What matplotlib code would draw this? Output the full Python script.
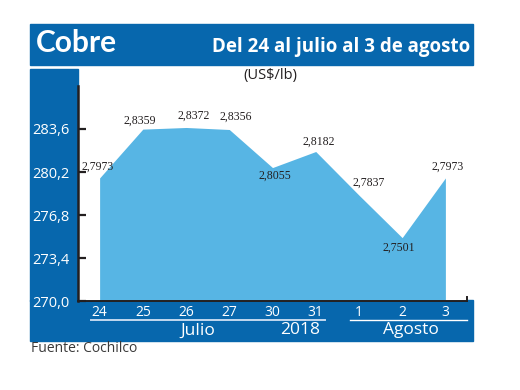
import matplotlib
matplotlib.use("Agg")
import matplotlib.pyplot as plt
from matplotlib.patches import Rectangle
from matplotlib.lines import Line2D

# ---- data ----
days = ["24", "25", "26", "27", "30", "31", "1", "2", "3"]
prices = [2.7973, 2.8359, 2.8372, 2.8356, 2.8055, 2.8182, 2.7837, 2.7501, 2.7973]  # US$/lb
price_labels = ["2,7973", "2,8359", "2,8372", "2,8356", "2,8055", "2,8182", "2,7837", "2,7501", "2,7973"]
yticks = [270.0, 273.4, 276.8, 280.2, 283.6]
ytick_labels = ["270,0", "273,4", "276,8", "280,2", "283,6"]
months = ["Julio", "2018", "Agosto"]
title = "Cobre"
subtitle = "Del 24 al julio al 3 de agosto"
unit = "(US$/lb)"
source = "Fuente: Cochilco"

# label offsets (pixels) relative to each point
label_offsets = [(-2, 11), (-3, 8), (8, 12), (6, 13), (2, -8), (3, 10), (10, 12), (-3, -10), (2, 11)]

BLUE = "#0767AD"
FILL = "#57B5E4"
W, H = 520, 390

def fx(px):
    return px / W

def fy(py):
    return 1 - py / H

fig = plt.figure(figsize=(5.2, 3.9), dpi=100)
fig.patch.set_facecolor("white")

# background bands
fig.patches.append(Rectangle((fx(30), fy(65)), fx(473) - fx(30), fy(24) - fy(65),
                             transform=fig.transFigure, color=BLUE, zorder=0))
fig.patches.append(Rectangle((fx(30), fy(301)), fx(78) - fx(30), fy(69) - fy(301),
                             transform=fig.transFigure, color=BLUE, zorder=0))
fig.patches.append(Rectangle((fx(30), fy(340.5)), fx(473) - fx(30), fy(300) - fy(340.5),
                             transform=fig.transFigure, color=BLUE, zorder=0))

ax = fig.add_axes([fx(78), fy(301), fx(467) - fx(78), fy(86) - fy(301)])
ax.set_facecolor("white")
ax.set_zorder(1)

cents = [p * 100 for p in prices]
x = list(range(len(days)))
ax.fill_between(x, cents, 270.0, color=FILL, linewidth=0, zorder=2)

ax.set_xlim(-0.5, 8.5)
ax.set_ylim(270.0, 287.0)

for s in ["top", "right"]:
    ax.spines[s].set_visible(False)
ax.spines["left"].set_color("#231f20")
ax.spines["left"].set_linewidth(1.8)
ax.spines["bottom"].set_color("#231f20")
ax.spines["bottom"].set_linewidth(1.4)
ax.spines["left"].set_zorder(3)
ax.spines["bottom"].set_zorder(3)

ax.set_yticks(yticks)
ax.set_yticklabels(ytick_labels)
ax.tick_params(axis="y", direction="in", length=6, width=1.6, color="#231f20",
               labelcolor="white", labelsize=10.5, pad=6)
for t in ax.get_yticklabels():
    t.set_fontfamily("Open Sans")

ax.set_xticks(x)
ax.set_xticklabels(days)
ax.tick_params(axis="x", length=0, labelcolor="white", labelsize=10, pad=3)
for t in ax.get_xticklabels():
    t.set_fontfamily("Open Sans")

# small end mark at the right end of the x axis
ax.plot([8.5, 8.5], [270.0, 270.35], color="#231f20", lw=1.4, clip_on=False, zorder=4)

# data labels
for xi, v, lab, (dx, dy) in zip(x, cents, price_labels, label_offsets):
    ax.annotate(lab, (xi, v), xytext=(dx, dy), textcoords="offset pixels",
                ha="center", va="center", fontsize=8.5, color="#231f20",
                family="Liberation Serif", zorder=5)

# header texts
fig.text(fx(36), fy(43), title, color="white", fontsize=21.5, fontweight="bold",
         family="Lato", ha="left", va="center")
fig.text(fx(470), fy(47), subtitle, color="white", fontsize=13.5, fontweight="bold",
         family="Open Sans", ha="right", va="center")
fig.text(fx(270), fy(75), unit, color="#231f20", fontsize=10.5, family="Open Sans",
         ha="center", va="center")

# month underlines and labels in the bottom band
fig.add_artist(Line2D([fx(91), fx(325)], [fy(319.5), fy(319.5)], color="#c3d9ef", lw=1.4,
                      transform=fig.transFigure))
fig.add_artist(Line2D([fx(350), fx(467)], [fy(319.5), fy(319.5)], color="white", lw=1.0,
                      transform=fig.transFigure))
fig.text(fx(197.5), fy(330.5), months[0], color="white", fontsize=12.5, family="Open Sans",
         ha="center", va="center")
fig.text(fx(300.5), fy(330.5), months[1], color="white", fontsize=12.5, family="Open Sans",
         ha="center", va="center")
fig.text(fx(411), fy(330.5), months[2], color="white", fontsize=12.5, family="Open Sans",
         ha="center", va="center")

fig.text(fx(31), fy(349), source, color="#3a3a3a", fontsize=10, family="Open Sans",
         ha="left", va="center")

fig.savefig("out.png", dpi=100)
